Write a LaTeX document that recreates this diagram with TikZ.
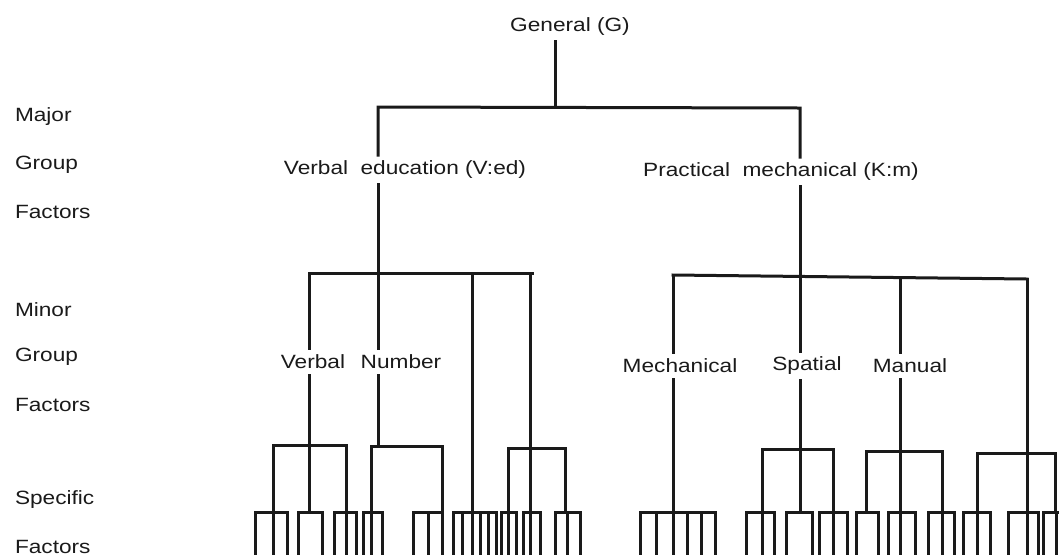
\documentclass[tikz,border=0pt]{standalone}
\usepackage{fontspec}
\setmainfont{Liberation Sans}
\definecolor{ink}{HTML}{1A1A1A}
% slightly widened lettering
\newcommand{\widetext}[1]{\scalebox{1.18}[1]{#1}}
% prong group: bar from #1 to #2, legs at the listed x positions
\newcommand{\prongs}[3]{%
  \draw[tree] (#1,512) -- (#2,512);
  \foreach \x in {#3} {\draw[tree] (\x,512) -- (\x,553);}%
}
\tikzset{
  tree/.style={draw=ink, line width=3pt, line cap=rect},
  lbl/.style={inner sep=0pt, outer sep=6pt, text=ink,
              font=\fontsize{19.2}{22}\selectfont},
  side/.style={lbl, outer sep=0pt, anchor=west}
}
\begin{document}
\begin{tikzpicture}[x=1pt, y=-1pt]
\useasboundingbox (0,0) rectangle (1059,558);

% level labels down the left margin
\node[side] (l1) at (15,117) {\widetext{Major}};
\node[side] (l2) at (15,165) {\widetext{Group}};
\node[side] (l3) at (15,212) {\widetext{Factors}};
\node[side] (l4) at (15,310) {\widetext{Minor}};
\node[side] (l5) at (15,357) {\widetext{Group}};
\node[side] (l6) at (15,405) {\widetext{Factors}};
\node[side] (l7) at (15,500) {\widetext{Specific}};
\node[side] (l8) at (15,547) {\widetext{Factors}};

% factor names
\node[lbl] (G)   at (570,27)  {\widetext{General (G)}};
\node[lbl] (ved) at (405,170) {\widetext{Verbal\hspace{0.55em}education (V:ed)}};
\node[lbl] (km)  at (781,172) {\widetext{Practical\hspace{0.55em}mechanical (K:m)}};
\node[lbl] (vb)  at (313,362) {\widetext{Verbal}};
\node[lbl] (nb)  at (401,362) {\widetext{Number}};
\node[lbl] (me)  at (680,366) {\widetext{Mechanical}};
\node[lbl] (sp)  at (807,366) {\widetext{Spatial}};
\node[lbl] (ma)  at (910,366) {\widetext{Manual}};

% junctions
\coordinate (gm) at (555,107);
\coordinate (ml) at (378,107);
\coordinate (mr) at (800,108);
\coordinate (nl) at (309,273);
\coordinate (nv) at (472,273);
\coordinate (nw) at (530,273);
\coordinate (nr) at (532,273);
\coordinate (rl) at (673,275);
\coordinate (rm) at (900,278);
\coordinate (rr) at (1027,279);

% general to major group factors
\draw[tree] (G.south -| gm) -- (gm);
\draw[tree] (ved.north -| ml) -- (ml) -- (mr) -- (km.north -| mr);

% verbal-educational branch
\draw[tree] (ved.south -| ml) -- (nb.north -| ml);
\draw[tree] (nl) -- (nr);
\draw[tree] (nl) -- (vb.north -| nl);
\draw[tree] (vb.south -| nl) -- (309,512);
\draw[tree] (nb.south -| ml) -- (378,446);
\draw[tree] (nv) -- (472,512);
\draw[tree] (nw) -- (530,512);

% practical-mechanical branch
\draw[tree] (km.south -| mr) -- (sp.north -| mr);
\draw[tree] (rl) -- (rr);
\draw[tree] (rl) -- (me.north -| rl);
\draw[tree] (rm) -- (ma.north -| rm);
\draw[tree] (rr) -- (1027,512);
\draw[tree] (me.south -| rl) -- (673,512);
\draw[tree] (sp.south -| mr) -- (800,512);
\draw[tree] (ma.south -| rm) -- (900,512);

% sub-groups above the specific factors
\draw[tree] (273,512) -- (273,445) -- (346,445) -- (346,512);
\draw[tree] (371,512) -- (371,446) -- (442,446) -- (442,512);
\draw[tree] (508,512) -- (508,448) -- (565,448) -- (565,512);
\draw[tree] (762,512) -- (762,449) -- (833,449) -- (833,512);
\draw[tree] (866,512) -- (866,451) -- (942,451) -- (942,512);
\draw[tree] (977,512) -- (977,453) -- (1055,453) -- (1055,512);

% specific factors
\prongs{255}{287}{255,273,287}
\prongs{298}{322}{298,322}
\prongs{334}{356}{334,346,356}
\prongs{363}{382}{363,371,382}
\prongs{413}{442}{413,428,442}
\prongs{453}{496}{453,462,472,480,488,496}
\prongs{501}{516}{501,508,516}
\prongs{523}{540}{523,530,540}
\prongs{555}{580}{555,567,580}
\prongs{640}{715}{640,656,673,687,701,715}
\prongs{746}{774}{746,762,774}
\prongs{786}{812}{786,812}
\prongs{819}{847}{819,833,847}
\prongs{856}{878}{856,878}
\prongs{888}{915}{888,900,915}
\prongs{928}{954}{928,942,954}
\prongs{963}{990}{963,977,990}
\prongs{1008}{1038}{1008,1027,1038}
\prongs{1043}{1057}{1043,1056}
\end{tikzpicture}
\end{document}
